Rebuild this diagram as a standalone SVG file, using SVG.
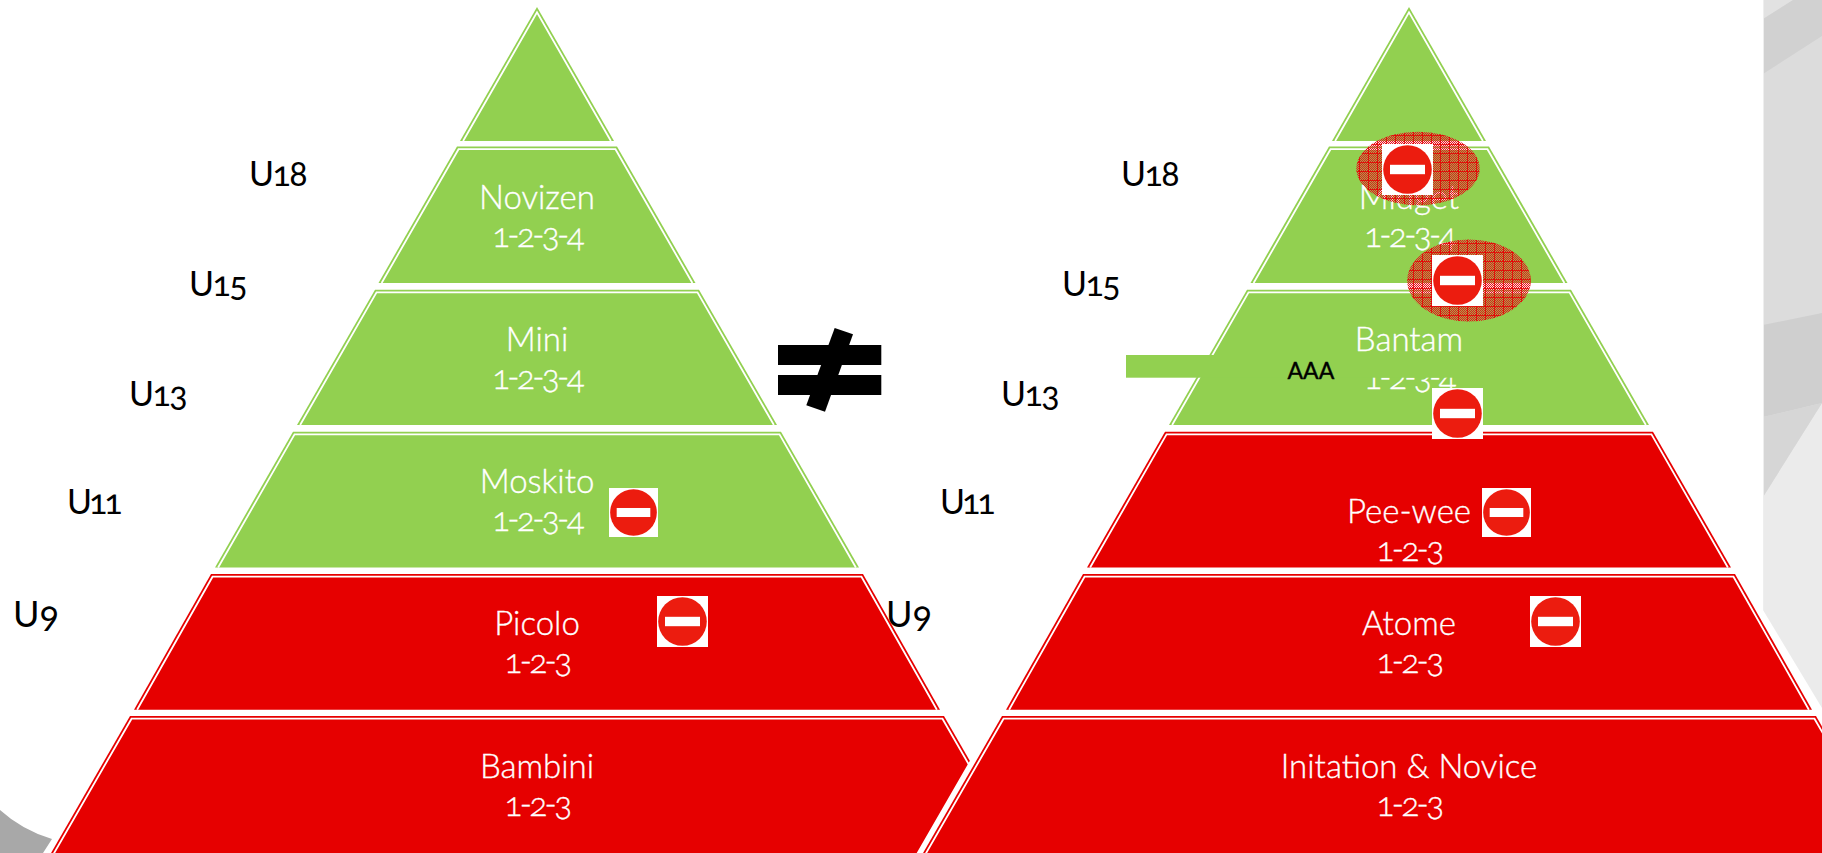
<svg xmlns="http://www.w3.org/2000/svg" xmlns:xlink="http://www.w3.org/1999/xlink" width="1822" height="853" viewBox="0 0 1822 853">
<style>
text{font-family:"Lato","Open Sans",sans-serif;font-variant-numeric:oldstyle-nums;font-feature-settings:"onum" 1}
.w{fill:#fff;stroke:#fff;stroke-width:.35;font-size:33px;font-weight:300;text-anchor:middle}
.n{fill:#fff;stroke:#fff;stroke-width:.35;font-size:33px;font-weight:300;text-anchor:middle;letter-spacing:-2.6px}
.u{fill:#000;font-size:34px;letter-spacing:-1.5px}
.g{fill:#92d050}.r{fill:#e60000}
.o{stroke:#fff;stroke-width:11;paint-order:stroke}
.i{fill:none;stroke:#fff;stroke-width:1.8}
</style>
<defs>
<pattern id="fine" width="2" height="2" patternUnits="userSpaceOnUse"><rect width="2" height="2" fill="#e8101c" fill-opacity=".14"/><rect width="1" height="1" fill="#e8101c"/><rect x="1" y="1" width="1" height="1" fill="#e8101c"/></pattern>
<pattern id="hatch" width="9" height="9" patternUnits="userSpaceOnUse"><rect width="9" height="9" fill="url(#fine)"/><path d="M0 .5H9M.5 0V9" stroke="#e60000" stroke-opacity=".8" stroke-width="1" fill="none"/></pattern>
<symbol id="sign" viewBox="0 0 51 51"><rect width="51" height="51" fill="#fff"/><circle cx="25.500" cy="25.500" r="24.300" fill="#ec1c0f"/><rect x="8" y="20.800" width="35" height="9.400" fill="#fff"/></symbol>
</defs>
<rect width="1822" height="853" fill="#fff"/>
<g id="background">
<path d="M1763 0H1822V708L1763 610Z" fill="#ebebeb"/>
<path d="M1763 0H1822V403L1763 497Z" fill="#dcdcdc"/>
<path d="M1763 0H1793L1763 19Z" fill="#e2e2e2"/>
<path d="M1793 0H1822V36L1763 74V19Z" fill="#d1d1d1"/>
<path d="M1763 325L1822 313V403L1763 417Z" fill="#cfcfcf"/>
<path d="M1763 417L1822 403L1763 497Z" fill="#d6d6d6"/>
<rect x="1763" y="0" width="1" height="610" fill="#eee"/>
<path d="M0 810Q22 830 52 839L43 853H0Z" fill="#a8a8a8"/>
</g>
<g id="pyramid-left">
<g id="left-top"><polygon class="g o" points="460,141 537,7 614,141"/><polyline class="i" points="463.100,141 537,12.400 610.900,141"/></g>
<g id="left-novizen"><polygon class="g o" points="378.500,283 457,146.500 617,146.500 695.500,283"/><polyline class="i" points="381.600,283 458.550,149.200 615.450,149.200 692.400,283"/><text class="w" x="537" y="209">Novizen</text><text class="n" x="537" y="247">1-2-3-4</text></g>
<g id="left-mini"><polygon class="g o" points="297,425 375,289.700 699,289.700 777,425"/><polyline class="i" points="300.100,425 376.550,292.400 697.450,292.400 773.900,425"/><text class="w" x="537" y="351">Mini</text><text class="n" x="537" y="389">1-2-3-4</text></g>
<g id="left-moskito"><polygon class="g o" points="215,567.500 293,431.700 781,431.700 859,567.500"/><polyline class="i" points="218.100,567.500 294.550,434.400 779.450,434.400 855.900,567.500"/><text class="w" x="537" y="493">Moskito</text><text class="n" x="537" y="531">1-2-3-4</text></g>
<g id="left-picolo"><polygon class="r o" points="134,709.700 211,574 863,574 940,709.700"/><polyline class="i" points="137.100,709.700 212.550,576.700 861.450,576.700 936.900,709.700"/><text class="w" x="537" y="635">Picolo</text><text class="n" x="537" y="673">1-2-3</text></g>
<g id="left-bambini"><polygon class="r o" points="47,860 130,716 944,716 1027,860"/><polyline class="i" points="50.100,860 131.550,718.700 942.450,718.700 1023.900,860"/><text class="w" x="537" y="778">Bambini</text><text class="n" x="537" y="816">1-2-3</text></g>
</g>
<g id="pyramid-right" transform="translate(872,0)">
<g id="right-top"><polygon class="g o" points="460,141 537,7 614,141"/><polyline class="i" points="463.100,141 537,12.400 610.900,141"/></g>
<g id="right-midget"><polygon class="g o" points="378.500,283 457,146.500 617,146.500 695.500,283"/><polyline class="i" points="381.600,283 458.550,149.200 615.450,149.200 692.400,283"/><text class="w" x="537" y="209">Midget</text><text class="n" x="537" y="247">1-2-3-4</text></g>
<g id="right-bantam"><polygon class="g o" points="297,425 375,289.700 699,289.700 777,425"/><polyline class="i" points="300.100,425 376.550,292.400 697.450,292.400 773.900,425"/><text class="w" x="537" y="351">Bantam</text><text class="n" x="537" y="389">1-2-3-4</text></g>
<g id="right-peewee"><polygon class="r o" points="215,567.500 293,431.700 781,431.700 859,567.500"/><polyline class="i" points="218.100,567.500 294.550,434.400 779.450,434.400 855.900,567.500"/><text class="w" x="537" y="523">Pee-wee</text><text class="n" x="537" y="561">1-2-3</text></g>
<g id="right-atome"><polygon class="r o" points="134,709.700 211,574 863,574 940,709.700"/><polyline class="i" points="137.100,709.700 212.550,576.700 861.450,576.700 936.900,709.700"/><text class="w" x="537" y="635">Atome</text><text class="n" x="537" y="673">1-2-3</text></g>
<g id="right-initation"><polygon class="r o" points="47,860 130,716 944,716 1027,860"/><polyline class="i" points="50.100,860 131.550,718.700 942.450,718.700 1023.900,860"/><text class="w" x="537" y="778">Initation &amp; Novice</text><text class="n" x="537" y="816">1-2-3</text></g>
</g>
<g id="aaa-box"><rect x="1126" y="355" width="334" height="22.700" fill="#92d050"/><text x="1287.500" y="378.500" font-size="23" fill="#000" stroke="#000" stroke-width=".4">AAA</text></g>
<g id="not-equal"><rect x="778" y="345" width="103.300" height="20"/><rect x="778" y="375" width="103.300" height="20"/><polygon points="834.700,328 853,334.300 825,411.700 806.300,405.300"/></g>
<g id="age-labels">
<text class="u" x="249" y="186">U18</text><text class="u" x="189" y="295.500">U15</text><text class="u" x="129" y="406">U13</text><text class="u" x="67" y="514" style="letter-spacing:-3px">U11</text><text class="u" x="13" y="627" style="letter-spacing:0;font-size:36px">U9</text>
<text class="u" x="1121" y="186">U18</text><text class="u" x="1062" y="295.500">U15</text><text class="u" x="1001" y="406">U13</text><text class="u" x="940" y="514" style="letter-spacing:-3px">U11</text><text class="u" x="886" y="627" style="letter-spacing:0;font-size:36px">U9</text>
</g>
<g id="hatch-ellipses"><ellipse cx="1418" cy="168.500" rx="61.700" ry="36.800" fill="url(#hatch)"/><ellipse cx="1469" cy="280.500" rx="61.800" ry="41" fill="url(#hatch)"/></g>
<g id="no-entry-signs">
<use xlink:href="#sign" href="#sign" x="609" y="488" width="49" height="49"/>
<use xlink:href="#sign" href="#sign" x="657" y="596" width="51" height="51"/>
<use xlink:href="#sign" href="#sign" x="1382" y="144" width="51" height="51"/>
<use xlink:href="#sign" href="#sign" x="1432" y="255" width="51" height="51"/>
<use xlink:href="#sign" href="#sign" x="1432" y="388" width="51" height="51"/>
<use xlink:href="#sign" href="#sign" x="1482" y="488" width="49" height="49"/>
<use xlink:href="#sign" href="#sign" x="1530" y="596" width="51" height="51"/>
</g>
</svg>
